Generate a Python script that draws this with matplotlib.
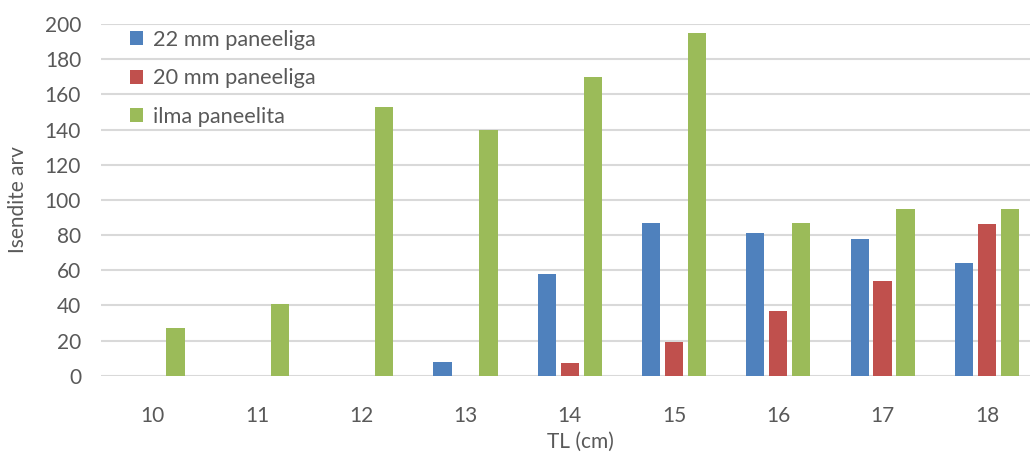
import matplotlib
matplotlib.use("Agg")
import matplotlib.pyplot as plt
import numpy as np

categories = ["10", "11", "12", "13", "14", "15", "16", "17", "18"]
panel_22mm = [0, 0, 0, 8, 58, 87, 81, 78, 64]
panel_20mm = [0, 0, 0, 0, 7, 19, 37, 54, 86]
no_panel = [27, 41, 153, 140, 170, 195, 87, 95, 95]
series_names = ["22 mm paneeliga", "20 mm paneeliga", "ilma paneelita"]
colors = ["#4F81BD", "#C0504D", "#9BBB59"]
yticks = list(range(0, 201, 20))

plt.rcParams['font.family'] = ['Lato', 'DejaVu Sans']
text_color = "#595959"
fs = 15

fig = plt.figure(figsize=(10.30, 4.58), dpi=100)
# plot area runs slightly past the right edge of the canvas
ax = fig.add_axes([100.5 / 1030, (458 - 375.7) / 458, 938.5 / 1030, 351.7 / 458])

x = np.arange(len(categories))
bar_w = 0.175
pitch = 0.22
for i, (vals, name, c) in enumerate(zip([panel_22mm, panel_20mm, no_panel], series_names, colors)):
    ax.bar(x + (i - 1) * pitch, vals, width=bar_w, color=c, label=name, zorder=3)

ax.set_xlim(-0.5, len(categories) - 0.5)
ax.set_ylim(0, 200)
ax.set_yticks(yticks)
ax.set_xticks(x)
ax.set_xticklabels(categories)
ax.yaxis.grid(True, color="#D9D9D9", linewidth=1.5, zorder=0)
ax.set_axisbelow(True)
for s in ax.spines.values():
    s.set_visible(False)
ax.tick_params(axis='both', length=0, labelsize=fs, labelcolor=text_color)
ax.tick_params(axis='x', pad=22)
ax.tick_params(axis='y', pad=14)

fig.text(580 / 1030, 1 - 442 / 458, "TL (cm)", ha='center', va='center', fontsize=fs, color=text_color)
fig.text(18 / 1030, 1 - 200 / 458, "Isendite arv", ha='center', va='center', rotation=90,
         fontsize=fs, color=text_color)

leg = ax.legend(loc='upper left', bbox_to_anchor=(0.022, 1.009), frameon=False, fontsize=fs + 0.7,
                handlelength=0.6, handleheight=0.6, handletextpad=0.45, labelspacing=0.86,
                borderaxespad=0)
for t in leg.get_texts():
    t.set_color(text_color)

fig.savefig("out.png", dpi=100)
